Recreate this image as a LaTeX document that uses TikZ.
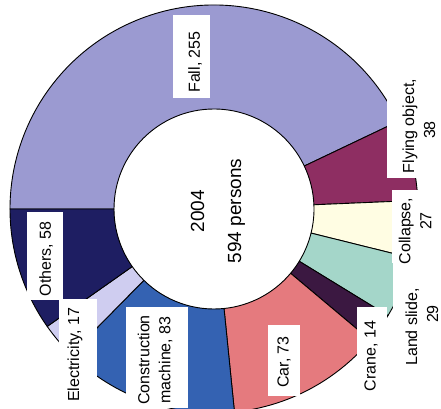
\documentclass[tikz,border=0pt]{standalone}
\usepackage{fontspec}
\setmainfont{Liberation Sans}
\definecolor{sfallfill}{HTML}{9B9AD1}
\definecolor{sflyfill}{HTML}{8E2E62}
\definecolor{scollfill}{HTML}{FFFDE3}
\definecolor{slandfill}{HTML}{A4D6C9}
\definecolor{scranefill}{HTML}{3B1841}
\definecolor{scarfill}{HTML}{E57A7E}
\definecolor{sconstfill}{HTML}{3462B2}
\definecolor{selecfill}{HTML}{CFCDF0}
\definecolor{sothersfill}{HTML}{1E1E62}
\tikzset{sslice/.style={draw=black, line width=0.9pt, line join=round}}
\tikzset{sbox/.style={fill=white}}
\tikzset{slabel/.style={rotate=90, align=center, inner sep=0pt, font=\fontsize{16}{21}\selectfont}}
\tikzset{scentre/.style={slabel, font=\fontsize{19}{23}\selectfont}}

\begin{document}
\begin{tikzpicture}[x=1pt, y=1pt]
  \useasboundingbox (0,0) rectangle (441,408);
  \fill[white] (0,0) rectangle (441,408);
  \clip (0,0) rectangle (441,408);

  % ring, clockwise from the left
  \begin{scope}[shift={(214,199)}]
    \draw[sslice, fill=sfallfill]   (180:100) arc[start angle=180, end angle=25.455, radius=100] -- (25.455:204) arc[start angle=25.455, end angle=180, radius=204] -- cycle;
    \draw[sslice, fill=sflyfill]    (25.455:100) arc[start angle=25.455, end angle=2.424, radius=100] -- (2.424:204) arc[start angle=2.424, end angle=25.455, radius=204] -- cycle;
    \draw[sslice, fill=scollfill]   (2.424:100) arc[start angle=2.424, end angle=-13.94, radius=100] -- (-13.94:204) arc[start angle=-13.94, end angle=2.424, radius=204] -- cycle;
    \draw[sslice, fill=slandfill]   (-13.94:100) arc[start angle=-13.94, end angle=-31.515, radius=100] -- (-31.515:204) arc[start angle=-31.515, end angle=-13.94, radius=204] -- cycle;
    \draw[sslice, fill=scranefill]  (-31.515:100) arc[start angle=-31.515, end angle=-40, radius=100] -- (-40:204) arc[start angle=-40, end angle=-31.515, radius=204] -- cycle;
    \draw[sslice, fill=scarfill]    (-40:100) arc[start angle=-40, end angle=-84.242, radius=100] -- (-84.242:204) arc[start angle=-84.242, end angle=-40, radius=204] -- cycle;
    \draw[sslice, fill=sconstfill]  (-84.242:100) arc[start angle=-84.242, end angle=-134.545, radius=100] -- (-134.545:204) arc[start angle=-134.545, end angle=-84.242, radius=204] -- cycle;
    \draw[sslice, fill=selecfill]   (-134.545:100) arc[start angle=-134.545, end angle=-144.848, radius=100] -- (-144.848:204) arc[start angle=-144.848, end angle=-134.545, radius=204] -- cycle;
    \draw[sslice, fill=sothersfill] (-144.848:100) arc[start angle=-144.848, end angle=-180, radius=100] -- (-180:204) arc[start angle=-180, end angle=-144.848, radius=204] -- cycle;
  \end{scope}

  % white label boxes
  \fill[sbox] (173,310) rectangle (210,393);
  \fill[sbox] (387,230) rectangle (441,368);
  \fill[sbox] (392,145) rectangle (441,218);
  \fill[sbox] (393,0) rectangle (441,145);
  \fill[sbox] (357,0) rectangle (387,101);
  \fill[sbox] (268,12) rectangle (300,83);
  \fill[sbox] (126,0) rectangle (188,101);
  \fill[sbox] (59,0) rectangle (97,109);
  \fill[sbox] (27,108) rectangle (63,196);

  \node[scentre] (total) at (218,197) {2004\\[14pt]594 persons};

  \node[slabel] (fall) at (195,346) {Fall, 255};
  \node[slabel] (flying) at (419,282) {Flying object,\\38\hspace*{8pt}};
  \node[slabel] (collapse) at (415,177) {Collapse,\\\hspace*{20pt}27};
  \node[slabel] (landslide) at (422,81) {Land slide,\\\hspace*{26pt}29};
  \node[slabel] (crane) at (371,52) {Crane, 14};
  \node[slabel] (car) at (284,46) {Car, 73};
  \node[slabel] (construction) at (155,48) {Construction\\machine, 83};
  \node[slabel] (electricity) at (75,53) {Electricity, 17};
  \node[slabel] (others) at (46,149) {Others, 58};
\end{tikzpicture}
\end{document}
